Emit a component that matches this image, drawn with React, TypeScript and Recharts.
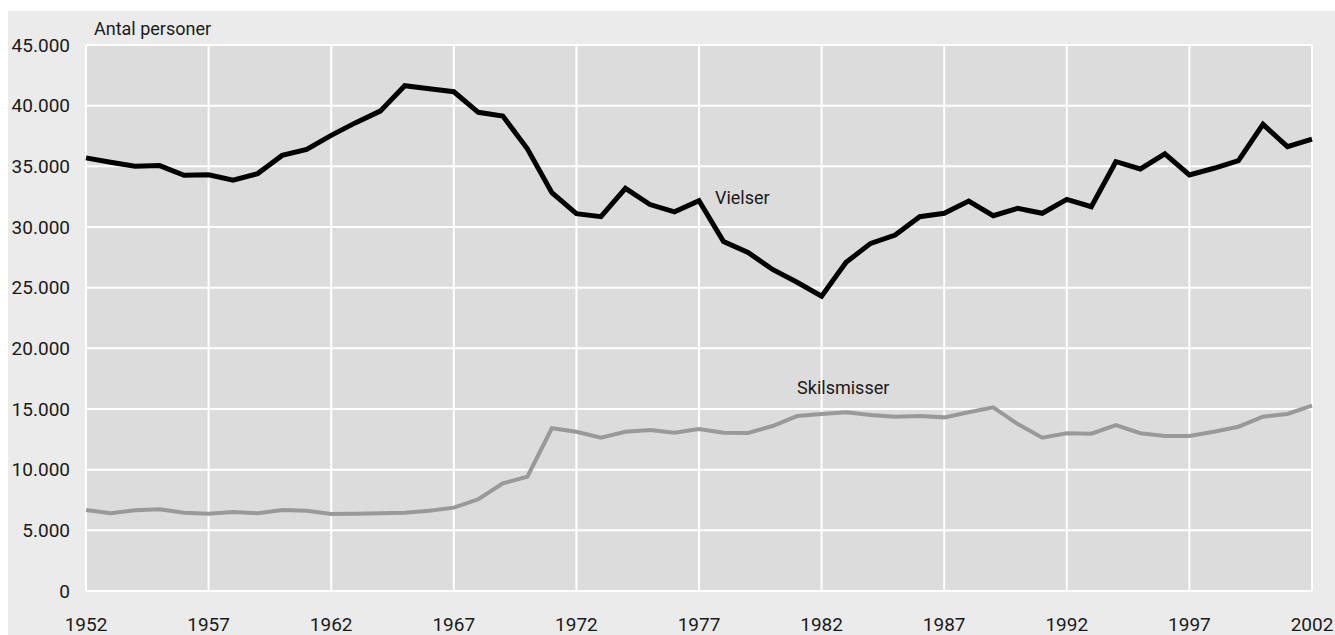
import { LineChart, Line, XAxis, YAxis, CartesianGrid, ReferenceDot } from 'recharts';

// år
const YEARS = [
  1952, 1953, 1954, 1955, 1956, 1957, 1958, 1959, 1960, 1961,
  1962, 1963, 1964, 1965, 1966, 1967, 1968, 1969, 1970, 1971,
  1972, 1973, 1974, 1975, 1976, 1977, 1978, 1979, 1980, 1981,
  1982, 1983, 1984, 1985, 1986, 1987, 1988, 1989, 1990, 1991,
  1992, 1993, 1994, 1995, 1996, 1997, 1998, 1999, 2000, 2001,
  2002,
];

const VIELSER = [
  35700, 35330, 35000, 35060, 34260, 34300, 33850, 34400, 35900, 36400,
  37550, 38600, 39550, 41650, 41400, 41150, 39450, 39150, 36450, 32830,
  31100, 30850, 33190, 31850, 31250, 32170, 28800, 27900, 26500, 25450,
  24300, 27100, 28650, 29340, 30850, 31130, 32140, 30930, 31540, 31130,
  32280, 31670, 35380, 34780, 36020, 34290, 34840, 35470, 38460, 36620,
  37250,
];

const SKILSMISSER = [
  6680, 6400, 6650, 6730, 6450, 6370, 6510, 6400, 6680, 6620,
  6350, 6370, 6400, 6450, 6620, 6870, 7560, 8880, 9420, 13410,
  13130, 12640, 13130, 13270, 13050, 13350, 13050, 13020, 13600, 14420,
  14590, 14730, 14510, 14370, 14420, 14310, 14730, 15140, 13760, 12640,
  13000, 12970, 13680, 13000, 12780, 12780, 13130, 13540, 14370, 14590,
  15270,
];

const X_TICKS = [1952, 1957, 1962, 1967, 1972, 1977, 1982, 1987, 1992, 1997, 2002];
const Y_TICKS = [0, 5000, 10000, 15000, 20000, 25000, 30000, 35000, 40000, 45000];

const data = YEARS.map((year, i) => ({
  year,
  vielser: VIELSER[i],
  skilsmisser: SKILSMISSER[i],
}));

const FONT = 'Roboto, "Noto Sans", sans-serif';
const TEXT = '#1a1a1a';

// tusindtalsseparator med punktum
const formatNumber = (v: number) => String(v).replace(/\B(?=(\d{3})+(?!\d))/g, '.');

const seriesLabel = (text: string) => (props: any) => {
  const { viewBox } = props;
  return (
    <text
      x={viewBox.x}
      y={viewBox.y}
      dy="0.35em"
      textAnchor="start"
      fontFamily={FONT}
      fontSize={18}
      fill={TEXT}
    >
      {text}
    </text>
  );
};

export default function App() {
  return (
    <div
      style={{
        position: 'fixed',
        left: 8,
        top: 11,
        width: 1327,
        height: 624,
        background: '#ebebeb',
      }}
    >
      <div
        style={{
          position: 'absolute',
          left: 86,
          top: 9,
          fontFamily: FONT,
          fontSize: 18,
          lineHeight: '18px',
          color: TEXT,
        }}
      >
        Antal personer
      </div>
      <LineChart
        width={1327}
        height={624}
        data={data}
        margin={{ top: 34, right: 23, left: 0, bottom: 0 }}
      >
        <CartesianGrid fill="#dcdcdc" fillOpacity={1} stroke="#ffffff" strokeWidth={2} />
        <XAxis
          dataKey="year"
          type="number"
          domain={[1952, 2002]}
          ticks={X_TICKS}
          interval={0}
          axisLine={false}
          tickLine={false}
          tickSize={0}
          tickMargin={27}
          height={44}
          tick={{ fontFamily: FONT, fontSize: 19, fill: TEXT }}
        />
        <YAxis
          type="number"
          domain={[0, 45000]}
          ticks={Y_TICKS}
          interval={0}
          axisLine={false}
          tickLine={false}
          tickSize={0}
          tickMargin={16}
          width={78}
          tickFormatter={formatNumber}
          tick={{ fontFamily: FONT, fontSize: 19, fill: TEXT }}
        />
        <Line
          type="linear"
          dataKey="skilsmisser"
          stroke="#999999"
          strokeWidth={4}
          dot={false}
          activeDot={false}
          isAnimationActive={false}
        />
        <Line
          type="linear"
          dataKey="vielser"
          stroke="#000000"
          strokeWidth={5}
          dot={false}
          activeDot={false}
          isAnimationActive={false}
        />
        <ReferenceDot x={1977.65} y={32400} r={0} fill="none" stroke="none" label={seriesLabel('Vielser')} />
        <ReferenceDot x={1981} y={16730} r={0} fill="none" stroke="none" label={seriesLabel('Skilsmisser')} />
      </LineChart>
    </div>
  );
}
